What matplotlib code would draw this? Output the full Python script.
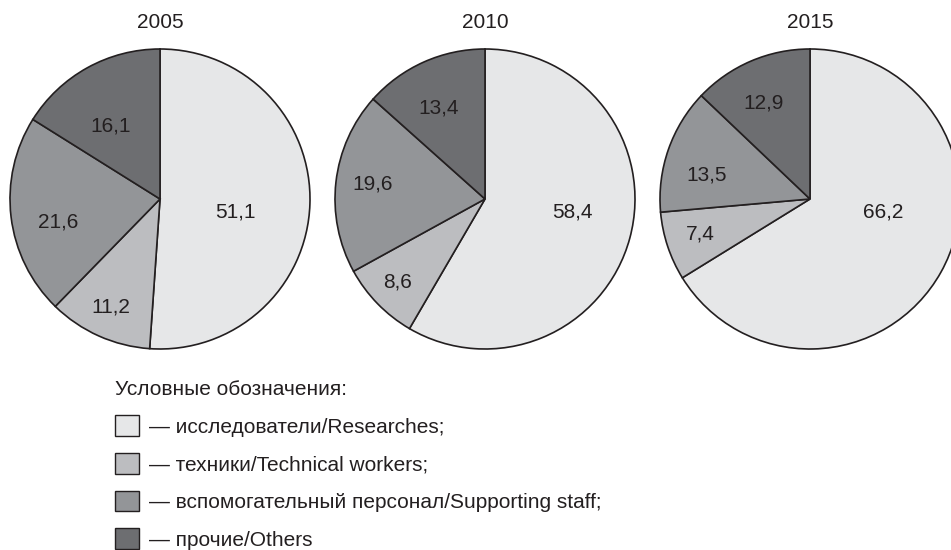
import matplotlib.pyplot as plt
from matplotlib.patches import Patch

plt.rcParams['font.family'] = ['Liberation Sans', 'DejaVu Sans']

years = ["2005", "2010", "2015"]
researchers = [51.1, 58.4, 66.2]
technical = [11.2, 8.6, 7.4]
supporting = [21.6, 19.6, 13.5]
others = [16.1, 13.4, 12.9]

categories = ["исследователи/Researches;", "техники/Technical workers;",
              "вспомогательный персонал/Supporting staff;", "прочие/Others"]
colors = ["#e6e7e8", "#bcbdc0", "#939598", "#6d6e71"]
ink = "#231f20"

# label spots inside the wedges, in pie-radius units
label_pos = [
    [(0.50, -0.09), (-0.33, -0.72), (-0.68, -0.15), (-0.33, 0.49)],
    [(0.58, -0.09), (-0.58, -0.55), (-0.75, 0.10), (-0.31, 0.61)],
    [(0.49, -0.09), (-0.73, -0.23), (-0.69, 0.16), (-0.31, 0.64)],
]
centres_px = [160, 485, 810]

W, H = 951, 550
fig = plt.figure(figsize=(W / 100, H / 100), dpi=100)

r = 150
cy = 199
for i, year in enumerate(years):
    vals = [researchers[i], technical[i], supporting[i], others[i]]
    cx = centres_px[i]
    ax = fig.add_axes([(cx - r) / W, (H - cy - r) / H, 2 * r / W, 2 * r / H])
    ax.pie(vals, colors=colors, startangle=90, counterclock=False, radius=1,
           wedgeprops=dict(edgecolor=ink, linewidth=1.2))
    ax.set_xlim(-1, 1)
    ax.set_ylim(-1, 1)
    for v, (lx, ly) in zip(vals, label_pos[i]):
        ax.text(lx, ly, f"{v:.1f}".replace(".", ","), ha="center", va="center",
                fontsize=15, color=ink)
    fig.text(cx / W, 1 - 22 / H, year, ha="center", va="center", fontsize=15, color=ink)

handles = [Patch(facecolor=c, edgecolor=ink, linewidth=1.0) for c in colors]
leg = fig.legend(handles, ["— " + c for c in categories], loc="upper left",
                 bbox_to_anchor=(115 / W, 1 - 380 / H), frameon=False,
                 fontsize=15, handlelength=1.15, handleheight=1.15,
                 handletextpad=0.5, labelspacing=0.78, borderpad=0, borderaxespad=0,
                 title="Условные обозначения:", title_fontsize=15, alignment="left")
for t in leg.get_texts():
    t.set_color(ink)
leg.get_title().set_color(ink)

fig.savefig("out.png", dpi=100)
